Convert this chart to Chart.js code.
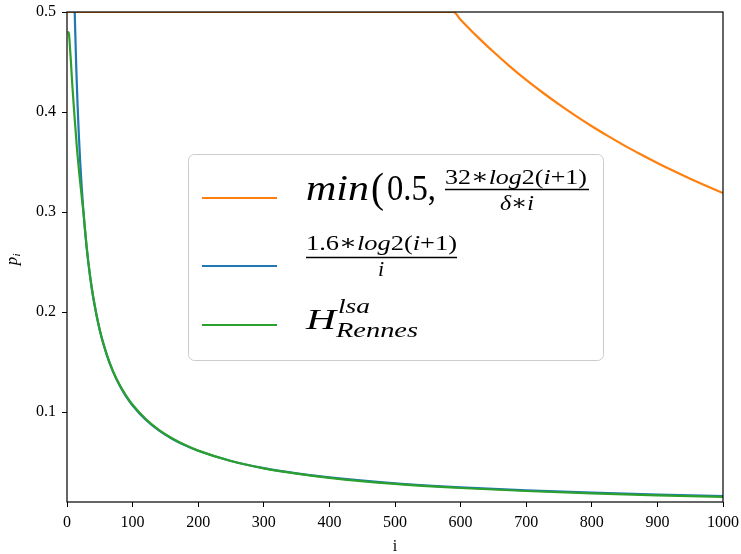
<!DOCTYPE html>
<html>
<head>
<meta charset="utf-8">
<script src="https://cdn.jsdelivr.net/npm/chart.js@4.4.0/dist/chart.umd.min.js"></script>
<style>
  body { margin: 0; background: #fff; }
  #wrap { width: 741px; height: 554px; position: relative; }
</style>
</head>
<body>
<div id="wrap"><canvas id="chart"></canvas></div>
<script>
// values
const orangeI = [1, 589, 600, 625, 650, 675, 700, 725, 750, 775, 800, 825, 850, 875, 900, 925, 950, 975, 1000];
const orangeP = [0.5, 0.5, 0.4923, 0.4756, 0.4602, 0.4457, 0.4321, 0.4195, 0.4076, 0.3964, 0.3858, 0.3759, 0.3664, 0.3575, 0.3490, 0.3409, 0.3332, 0.3259, 0.3189];

const blueI = [10, 12, 14, 16, 18, 20, 25, 30, 35, 40, 50, 60, 70, 80, 90, 100, 120, 140, 160, 180, 200, 250, 300, 350, 400, 500, 600, 700, 800, 900, 1000];
const blueP = [0.5535, 0.4934, 0.4465, 0.4087, 0.3776, 0.3514, 0.3008, 0.2642, 0.2363, 0.2143, 0.1815, 0.1582, 0.1406, 0.1268, 0.1157, 0.1065, 0.0923, 0.0816, 0.0733, 0.0667, 0.0612, 0.0510, 0.0439, 0.0387, 0.0346, 0.0287, 0.0246, 0.0216, 0.0193, 0.0174, 0.0159];

const greenI = [1, 2, 3, 4, 6, 8, 11, 15, 20, 25, 30, 35, 40, 50, 60, 70, 80, 90, 100, 120, 140, 160, 180, 200, 250, 300, 350, 400, 500, 600, 700, 800, 900, 1000];
const greenP = [0.480, 0.480, 0.478, 0.470, 0.450, 0.428, 0.400, 0.365, 0.330, 0.300, 0.265, 0.237, 0.215, 0.182, 0.159, 0.141, 0.1275, 0.1165, 0.1072, 0.0930, 0.0822, 0.0738, 0.0670, 0.0614, 0.0510, 0.0437, 0.0384, 0.0342, 0.0281, 0.0240, 0.0210, 0.0186, 0.0167, 0.0151];

const yTicks = [0.1, 0.2, 0.3, 0.4, 0.5];

const SERIF = '"Liberation Serif", "DejaVu Serif", serif';

function toPoints(xs, ys) {
  return xs.map((x, k) => ({ x: x, y: ys[k] }));
}

function setFont(ctx, piece, size) {
  ctx.font = (piece.it ? 'italic ' : '') + size + 'px ' + SERIF;
}

// width of a run of text pieces ({t, it}) at a font size
function runWidth(ctx, pieces, size) {
  let w = 0;
  pieces.forEach((p) => {
    setFont(ctx, p, size);
    w += ctx.measureText(p.t).width;
  });
  return w;
}

// draw a run, stretched horizontally to targetW if given; align 'left' or 'center'
function drawRun(ctx, pieces, x, y, size, targetW, align, sy) {
  const w = runWidth(ctx, pieces, size);
  const sx = targetW ? targetW / w : 1;
  const realW = w * sx;
  const x0 = align === 'center' ? x - realW / 2 : x;
  ctx.save();
  ctx.translate(x0, y);
  ctx.scale(sx, sy || 1);
  ctx.textAlign = 'left';
  ctx.textBaseline = 'alphabetic';
  let cx = 0;
  pieces.forEach((p) => {
    setFont(ctx, p, size);
    ctx.fillText(p.t, cx, 0);
    cx += ctx.measureText(p.t).width;
  });
  ctx.restore();
  return realW;
}

const decorPlugin = {
  id: 'decor',
  afterDatasetsDraw(chart) {
    const ctx = chart.ctx;
    const a = chart.chartArea;
    ctx.save();

    // frame round the plot
    ctx.strokeStyle = '#000';
    ctx.lineWidth = 1.2;
    ctx.strokeRect(a.left, a.top, a.right - a.left, a.bottom - a.top);

    // axis titles
    ctx.fillStyle = '#000';
    drawRun(ctx, [{ t: 'i' }], (a.left + a.right) / 2, 551, 16, null, 'center');
    ctx.save();
    ctx.translate(16.5, 258);
    ctx.rotate(-Math.PI / 2);
    drawRun(ctx, [{ t: 'p', it: true }], -3, 0, 17, null, 'center');
    drawRun(ctx, [{ t: 'i', it: true }], 1.5, 3, 11, null, 'left');
    ctx.restore();

    // legend box
    ctx.beginPath();
    ctx.roundRect(188.5, 154.5, 415, 206, 6);
    ctx.fillStyle = 'rgba(255,255,255,0.8)';
    ctx.fill();
    ctx.strokeStyle = '#cccccc';
    ctx.lineWidth = 1;
    ctx.stroke();

    // legend line samples
    const samples = [['#ff7f0e', 198], ['#1f77b4', 266], ['#2ca02c', 325]];
    ctx.lineWidth = 2.2;
    samples.forEach(([c, y]) => {
      ctx.strokeStyle = c;
      ctx.beginPath();
      ctx.moveTo(202, y);
      ctx.lineTo(277, y);
      ctx.stroke();
    });

    ctx.fillStyle = '#000';
    ctx.strokeStyle = '#000';
    // entry 1: min(0.5, 32*log2(i+1) / (delta*i)
    drawRun(ctx, [{ t: 'min', it: true }], 306, 200, 36, 63, 'left');
    drawRun(ctx, [{ t: '(' }], 371, 202, 30, 13, 'left', 1.4);
    drawRun(ctx, [{ t: '0.5,' }], 387, 200, 36, 49, 'left');
    const num1 = [{ t: '32\u2217' }, { t: 'log', it: true }, { t: '2(' }, { t: 'i', it: true }, { t: '+1)' }];
    drawRun(ctx, num1, 445, 184, 22, 142, 'left');
    ctx.lineWidth = 1.4;
    ctx.beginPath();
    ctx.moveTo(445, 189.5);
    ctx.lineTo(589, 189.5);
    ctx.stroke();
    drawRun(ctx, [{ t: '\u03b4', it: true }, { t: '\u2217' }, { t: 'i', it: true }], 517, 210, 22, 34, 'center');

    // entry 2: 1.6*log2(i+1) / i
    const num2 = [{ t: '1.6\u2217' }, { t: 'log', it: true }, { t: '2(' }, { t: 'i', it: true }, { t: '+1)' }];
    drawRun(ctx, num2, 306, 250, 22, 151, 'left');
    ctx.beginPath();
    ctx.moveTo(306, 257.5);
    ctx.lineTo(457, 257.5);
    ctx.stroke();
    drawRun(ctx, [{ t: 'i', it: true }], 381, 276, 22, null, 'center');

    // entry 3: H^lsa_Rennes
    drawRun(ctx, [{ t: 'H', it: true }], 306, 329, 30, 30, 'left');
    drawRun(ctx, [{ t: 'lsa', it: true }], 338, 313, 21, 32, 'left');
    drawRun(ctx, [{ t: 'Rennes', it: true }], 336, 337, 21, 82, 'left');

    ctx.restore();
  }
};

const tickFont = { family: SERIF, size: 16 };

new Chart(document.getElementById('chart'), {
  type: 'line',
  data: {
    datasets: [
      { label: 'orange', data: toPoints(orangeI, orangeP), borderColor: '#ff7f0e', order: 2 },
      { label: 'blue', data: toPoints(blueI, blueP), borderColor: '#1f77b4', order: 1 },
      { label: 'green', data: toPoints(greenI, greenP), borderColor: '#2ca02c', order: 0 },
    ],
  },
  options: {
    responsive: true,
    maintainAspectRatio: false,
    animation: false,
    layout: { padding: { top: 12, right: 18, left: 0, bottom: 0 } },
    elements: {
      point: { radius: 0 },
      line: { borderWidth: 2.2, cubicInterpolationMode: 'monotone', fill: false },
    },
    plugins: {
      legend: { display: false },
      tooltip: { enabled: false },
    },
    scales: {
      x: {
        type: 'linear',
        min: 0,
        max: 1000,
        ticks: {
          stepSize: 100,
          autoSkip: false,
          maxRotation: 0,
          color: '#000',
          font: tickFont,
          padding: 6,
          callback: (v) => String(v),
        },
        grid: { drawOnChartArea: false, tickLength: 5, color: '#000' },
        border: { display: false },
        afterFit(s) {
          s.height = 52;
          s.paddingLeft = 0;
          s.paddingRight = 0;
        },
      },
      y: {
        min: 0.01,
        max: 0.5,
        afterBuildTicks(s) {
          s.ticks = yTicks.map((v) => ({ value: v }));
        },
        ticks: {
          color: '#000',
          font: tickFont,
          padding: 6,
          callback: (v) => v.toFixed(1),
        },
        grid: { drawOnChartArea: false, tickLength: 5, color: '#000' },
        border: { display: false },
        afterFit(s) {
          s.width = 67;
          s.paddingTop = 0;
          s.paddingBottom = 0;
        },
      },
    },
  },
  plugins: [decorPlugin],
});
</script>
</body>
</html>
